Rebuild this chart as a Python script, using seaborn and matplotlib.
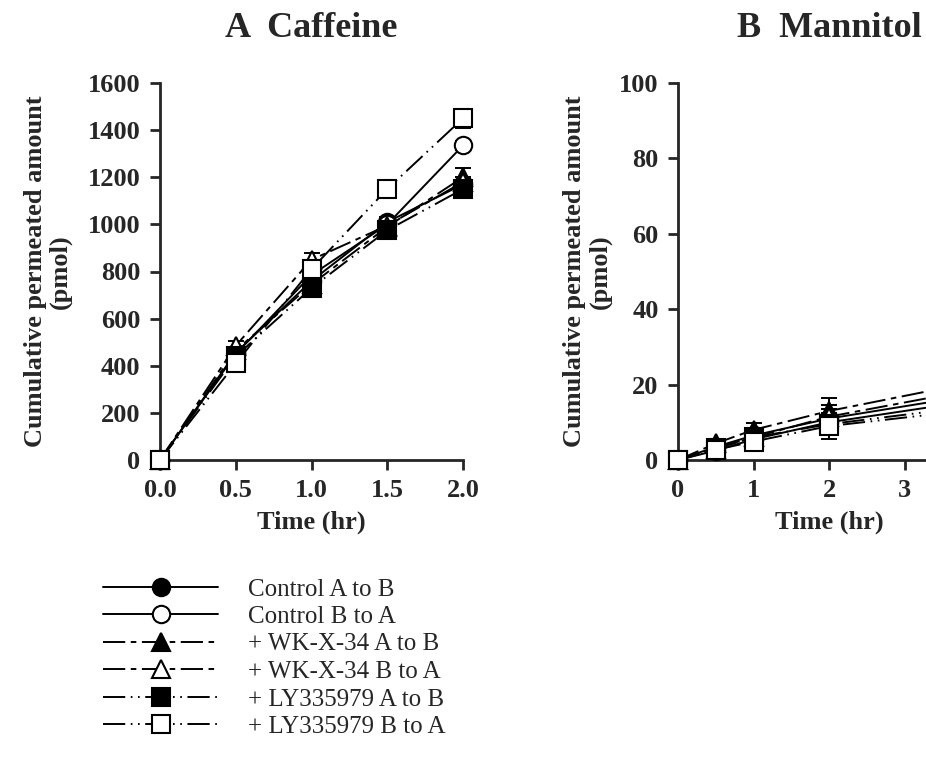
import matplotlib
matplotlib.use("Agg")
import matplotlib.pyplot as plt
import seaborn as sns

# series names (legend order)
series_labels = ['Control A to B', 'Control B to A',
                 '+ WK-X-34 A to B', '+ WK-X-34 B to A',
                 '+ LY335979 A to B', '+ LY335979 B to A']

# A: caffeine, cumulative permeated amount (pmol)
caf_time = [0.0, 0.5, 1.0, 1.5, 2.0]
caf_ctrl_ab = [0, 455, 760, 1010, 1170]
caf_ctrl_ba = [0, 450, 785, 1000, 1335]
caf_wk_ab = [0, 465, 745, 990, 1200]
caf_wk_ba = [0, 485, 850, 995, 1180]
caf_ly_ab = [0, 440, 730, 975, 1150]
caf_ly_ba = [0, 410, 810, 1150, 1450]
caf_ctrl_ab_se = [0, 15, 20, 20, 20]
caf_ctrl_ba_se = [0, 15, 20, 20, 20]
caf_wk_ab_se = [0, 15, 20, 20, 40]
caf_wk_ba_se = [0, 20, 30, 20, 20]
caf_ly_ab_se = [0, 15, 20, 20, 20]
caf_ly_ba_se = [0, 15, 25, 40, 40]

# B: mannitol, cumulative permeated amount (pmol)
man_time = [0, 0.5, 1, 2, 4]
man_ctrl_ab = [0, 3.5, 6.5, 11.0, 17.5]
man_ctrl_ba = [0, 2.5, 5.5, 10.0, 16.0]
man_wk_ab = [0, 4.4, 8.0, 13.0, 21.0]
man_wk_ba = [0, 3.0, 6.0, 11.5, 19.0]
man_ly_ab = [0, 3.2, 6.0, 9.5, 14.5]
man_ly_ba = [0, 2.7, 4.9, 9.0, 13.5]
man_ctrl_ab_se = [0, 1.0, 1.5, 2.5, 2.5]
man_ctrl_ba_se = [0, 1.0, 1.5, 2.5, 2.5]
man_wk_ab_se = [0, 1.0, 1.8, 3.5, 3.0]
man_wk_ba_se = [0, 1.0, 1.5, 3.0, 3.0]
man_ly_ab_se = [0, 1.0, 1.5, 2.5, 2.5]
man_ly_ba_se = [0, 1.0, 1.5, 3.5, 3.0]

sns.set_style("ticks")
plt.rcParams['font.family'] = ['Liberation Serif', 'DejaVu Serif']
plt.rcParams['font.weight'] = 'bold'
plt.rcParams['lines.scale_dashes'] = False

markers = ['o', 'o', '^', '^', 's', 's']
msizes = [12.5, 12.5, 13.5, 13.5, 13, 13]
faces = ['black', 'white', 'black', 'white', 'black', 'white']
dash_wk = (0, (16, 4, 4, 4))
dash_ly = (0, (16, 4, 1.2, 4, 1.2, 4))
lstyles = ['-', '-', dash_wk, dash_wk, dash_ly, dash_ly]


def draw_panel(ax, t, ys, errs):
    for i, (y, e) in enumerate(zip(ys, errs)):
        ax.errorbar(t, y, yerr=e, fmt='none', ecolor='black', elinewidth=1.4,
                    capsize=6, capthick=1.4, zorder=2, clip_on=False)
        sns.lineplot(x=t, y=y, ax=ax, color='black', marker=markers[i],
                     markersize=msizes[i], markerfacecolor=faces[i],
                     markeredgecolor='black', markeredgewidth=1.5,
                     linestyle=lstyles[i], linewidth=1.4, label=series_labels[i],
                     legend=False, errorbar=None, clip_on=False, zorder=3 + i)
    sns.despine(ax=ax)
    for s in ['left', 'bottom']:
        ax.spines[s].set_linewidth(2)
    ax.tick_params(direction='out', length=7, width=2, labelsize=19, pad=7)
    ax.set_xlabel('Time (hr)', fontsize=19, fontweight='bold', labelpad=6)
    ax.set_ylabel('Cumulative permeated amount\n(pmol)', fontsize=19,
                  fontweight='bold', linespacing=1.1)


fig = plt.figure(figsize=(9.26, 7.78), dpi=100)
axA = fig.add_axes([160 / 926, 318 / 778, 303 / 926, 377 / 778])
axB = fig.add_axes([678 / 926, 318 / 778, 302 / 926, 377 / 778])

draw_panel(axA, caf_time,
           [caf_ctrl_ab, caf_ctrl_ba, caf_wk_ab, caf_wk_ba, caf_ly_ab, caf_ly_ba],
           [caf_ctrl_ab_se, caf_ctrl_ba_se, caf_wk_ab_se, caf_wk_ba_se, caf_ly_ab_se, caf_ly_ba_se])
axA.set_xlim(0, 2)
axA.set_ylim(0, 1600)
axA.set_xticks([0, 0.5, 1.0, 1.5, 2.0])
axA.set_xticklabels(['0.0', '0.5', '1.0', '1.5', '2.0'])
axA.set_yticks(range(0, 1601, 200))
axA.set_title('A  Caffeine', fontsize=26, fontweight='bold', pad=33)
axA.yaxis.set_label_coords(-0.29, 0.5)

draw_panel(axB, man_time,
           [man_ctrl_ab, man_ctrl_ba, man_wk_ab, man_wk_ba, man_ly_ab, man_ly_ba],
           [man_ctrl_ab_se, man_ctrl_ba_se, man_wk_ab_se, man_wk_ba_se, man_ly_ab_se, man_ly_ba_se])
axB.set_xlim(0, 4)
axB.set_ylim(0, 100)
axB.set_xticks([0, 1, 2, 3, 4])
# the 4 h label falls outside the cropped figure
axB.set_xticklabels(['0', '1', '2', '3', ''])
axB.set_yticks(range(0, 101, 20))
axB.set_title('B  Mannitol', fontsize=26, fontweight='bold', pad=33)
axB.yaxis.set_label_coords(-0.22, 0.5)

handles, labels = axA.get_legend_handles_labels()
fig.legend(handles, labels, loc='upper left', bbox_to_anchor=(103 / 926, 1 - 578 / 778),
           frameon=False, handlelength=4.6, handletextpad=1.2, labelspacing=0.2,
           borderpad=0, borderaxespad=0, numpoints=1,
           prop={'family': 'Liberation Serif', 'weight': 'normal', 'size': 18})

fig.savefig('out.png', dpi=100)
